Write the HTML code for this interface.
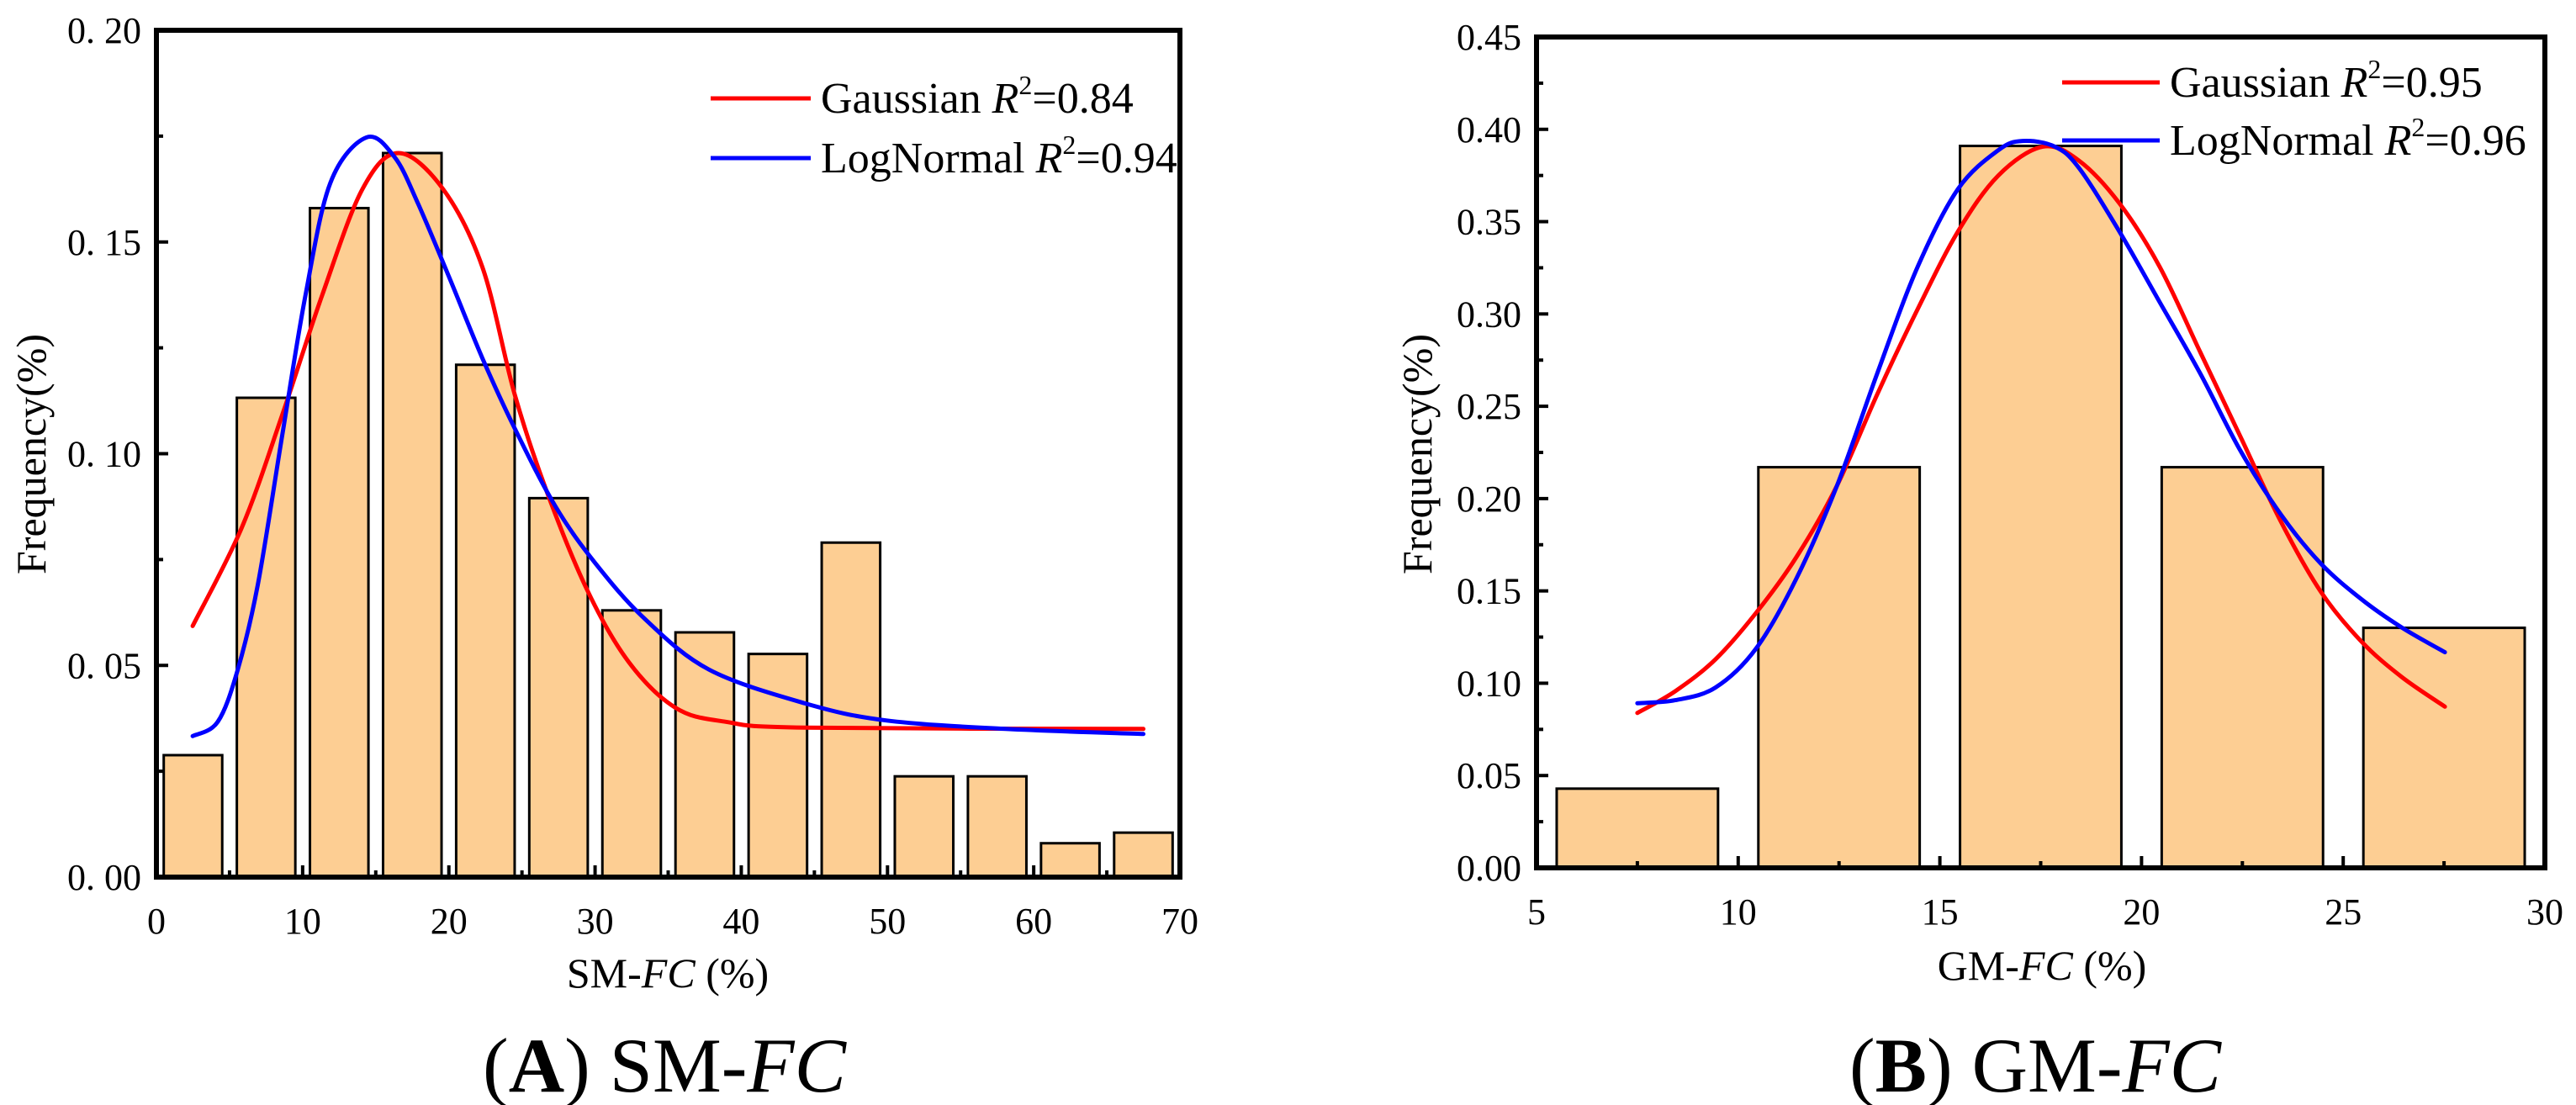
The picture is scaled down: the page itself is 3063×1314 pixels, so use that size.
<!DOCTYPE html>
<html><head><meta charset="utf-8"><style>
html,body{margin:0;padding:0;background:#fff;}
svg{display:block;font-family:"Liberation Serif",serif;}
</style></head><body>
<svg id="fig" width="3063" height="1314" viewBox="0 0 3063 1314" xmlns="http://www.w3.org/2000/svg">
<g id="plotA"></g>
<g id="plotB"></g>
</svg>
<script>
// Chart A data
const aBarCenters=[2.5,7.5,12.5,17.5,22.5,27.5,32.5,37.5,42.5,47.5,52.5,57.5,62.5,67.5];
const aBarValues=[0.0288,0.1132,0.158,0.171,0.121,0.0895,0.063,0.0578,0.0527,0.079,0.0238,0.0238,0.008,0.0105];
const aGaussX=[2.48,5.83,8.59,11.34,14.09,16.57,19.6,22.3,24.5,26.7,29.5,32.3,35.5,38.9,44.4,67.5];
const aGaussY=[0.0593,0.0825,0.109,0.1375,0.1625,0.171,0.1625,0.144,0.114,0.091,0.0675,0.0508,0.04,0.0367,0.0353,0.035];
const aLogX=[2.48,4.2,5.56,6.93,8.59,10.2,11.9,14.36,16.3,17.9,20.1,22.3,24.5,27.3,30.05,33.4,37.8,44.4,49.9,58.1,67.5];
const aLogY=[0.0333,0.0367,0.049,0.069,0.104,0.1375,0.164,0.1747,0.17,0.159,0.141,0.1225,0.106,0.0875,0.074,0.061,0.049,0.041,0.037,0.035,0.0338];
const aXTicks=[0,10,20,30,40,50,60,70];
const aYTicks=[0,0.05,0.10,0.15,0.20];
const aYTickLabels=["0. 00","0. 05","0. 10","0. 15","0. 20"];
// Chart B data
const bBarCenters=[7.5,12.5,17.5,22.5,27.5];
const bBarValues=[0.0429,0.217,0.391,0.217,0.130];
const bGaussX=[7.5,8.44,9.44,10.44,11.45,12.45,13.45,14.45,15.45,16.45,17.55,18.45,19.45,20.45,21.45,22.45,23.45,24.45,25.45,26.45,27.52];
const bGaussY=[0.0839,0.0957,0.113,0.138,0.1685,0.207,0.2566,0.3026,0.3447,0.375,0.3906,0.383,0.36,0.3255,0.2796,0.2336,0.1877,0.1494,0.1226,0.1034,0.0873];
const bLogX=[7.5,8.44,9.44,10.44,11.45,12.45,13.45,14.45,15.45,16.45,17.05,17.85,18.45,19.45,20.45,21.45,22.45,23.45,24.45,25.45,26.45,27.52];
const bLogY=[0.0892,0.0908,0.0977,0.1187,0.157,0.207,0.268,0.3255,0.3677,0.3887,0.3937,0.3906,0.379,0.3447,0.3064,0.268,0.226,0.1915,0.1647,0.1455,0.1302,0.1168];
const bXTicks=[5,10,15,20,25,30];
const bYTicks=[0,0.05,0.10,0.15,0.20,0.25,0.30,0.35,0.40,0.45];
const bYTickLabels=["0.00","0.05","0.10","0.15","0.20","0.25","0.30","0.35","0.40","0.45"];

const NS="http://www.w3.org/2000/svg";
function mk(parent,tag,attrs,text){const e=document.createElementNS(NS,tag);for(const k in attrs)e.setAttribute(k,attrs[k]);if(text!==undefined)e.textContent=text;parent.appendChild(e);return e;}

function smoothPath(pts){
  let d='M'+pts[0][0].toFixed(1)+','+pts[0][1].toFixed(1);
  for(let i=0;i<pts.length-1;i++){
    const p0=pts[i-1]||pts[i],p1=pts[i],p2=pts[i+1],p3=pts[i+2]||p2;
    const c1=[p1[0]+(p2[0]-p0[0])/6,p1[1]+(p2[1]-p0[1])/6];
    const c2=[p2[0]-(p3[0]-p1[0])/6,p2[1]-(p3[1]-p1[1])/6];
    d+=' C'+c1[0].toFixed(1)+','+c1[1].toFixed(1)+' '+c2[0].toFixed(1)+','+c2[1].toFixed(1)+' '+p2[0].toFixed(1)+','+p2[1].toFixed(1);
  }
  return d;
}

function drawChart(g,cfg){
  const sx=v=>cfg.x0+(v-cfg.xmin)/(cfg.xmax-cfg.xmin)*(cfg.x1-cfg.x0);
  const sy=v=>cfg.y0-(v-cfg.ymin)/(cfg.ymax-cfg.ymin)*(cfg.y0-cfg.y1);
  cfg.bars.forEach((c,i)=>{
    const r=mk(g,'rect',{x:sx(c-2),y:sy(cfg.vals[i]),width:sx(c+2)-sx(c-2),height:sy(0)-sy(cfg.vals[i]),fill:'#fdce93',stroke:'#000','stroke-width':3});
    
    
  });
  function curve(xs,ys,color,name){
    const pts=xs.map((x,i)=>[sx(x),sy(ys[i])]);
    const p=mk(g,'path',{d:smoothPath(pts),fill:'none',stroke:color,'stroke-width':5,'stroke-linejoin':'round','stroke-linecap':'round'});
    
    
  }
  curve(cfg.gx,cfg.gy,'#f00','gaussian-curve');
  curve(cfg.lx,cfg.ly,'#00f','lognormal-curve');
  cfg.xt.forEach(t=>{
    mk(g,'line',{x1:sx(t),x2:sx(t),y1:cfg.y0,y2:cfg.y0-14,stroke:'#000','stroke-width':4});
    const tl=mk(g,'text',{x:sx(t),y:cfg.y0+67,'font-size':44,'text-anchor':'middle'},String(t));
    
    
  });
  cfg.xminor.forEach(t=>mk(g,'line',{x1:sx(t),x2:sx(t),y1:cfg.y0,y2:cfg.y0-8,stroke:'#000','stroke-width':4}));
  cfg.yt.forEach((t,i)=>{
    mk(g,'line',{x1:cfg.x0,x2:cfg.x0+14,y1:sy(t),y2:sy(t),stroke:'#000','stroke-width':4});
    const tl=mk(g,'text',{x:cfg.x0-18,y:sy(t)+15,'font-size':44,'text-anchor':'end'},cfg.ytl[i]);
    
    
  });
  cfg.yminor.forEach(t=>mk(g,'line',{x1:cfg.x0,x2:cfg.x0+8,y1:sy(t),y2:sy(t),stroke:'#000','stroke-width':4}));
  const f=mk(g,'rect',{x:cfg.x0,y:cfg.y1,width:cfg.x1-cfg.x0,height:cfg.y0-cfg.y1,fill:'none',stroke:'#000','stroke-width':6});
  
  
}
const aMinorX=[5,15,25,35,45,55,65];
const aMinorY=[0.025,0.075,0.125,0.175];
const bMinorX=[7.5,12.5,17.5,22.5,27.5];
const bMinorY=[0.025,0.075,0.125,0.175,0.225,0.275,0.325,0.375,0.425];
drawChart(document.getElementById('plotA'),{x0:186,x1:1403,y0:1043,y1:36,xmin:0,xmax:70,ymin:0,ymax:0.2,bars:aBarCenters,vals:aBarValues,gx:aGaussX,gy:aGaussY,lx:aLogX,ly:aLogY,xt:aXTicks,yt:aYTicks,ytl:aYTickLabels,xminor:aMinorX,yminor:aMinorY});
drawChart(document.getElementById('plotB'),{x0:1827,x1:3026,y0:1032,y1:44,xmin:5,xmax:30,ymin:0,ymax:0.45,bars:bBarCenters,vals:bBarValues,gx:bGaussX,gy:bGaussY,lx:bLogX,ly:bLogY,xt:bXTicks,yt:bYTicks,ytl:bYTickLabels,xminor:bMinorX,yminor:bMinorY});
</script>
<script>
(function(){
const svg=document.getElementById('fig');
svg.insertAdjacentHTML('beforeend',`
<g>
 <line x1="845" y1="117" x2="964" y2="117" stroke="#f00" stroke-width="5"/>
 <text x="976" y="134" font-size="52">Gaussian <tspan font-style="italic">R</tspan><tspan font-size="32" dy="-22">2</tspan><tspan dy="22">=0.84</tspan></text>
 <line x1="845" y1="188" x2="964" y2="188" stroke="#00f" stroke-width="5"/>
 <text x="976" y="205" font-size="52">LogNormal <tspan font-style="italic">R</tspan><tspan font-size="32" dy="-22">2</tspan><tspan dy="22">=0.94</tspan></text>
</g>
<g>
 <line x1="2452" y1="98" x2="2568" y2="98" stroke="#f00" stroke-width="5"/>
 <text x="2580" y="115" font-size="52">Gaussian <tspan font-style="italic">R</tspan><tspan font-size="32" dy="-22">2</tspan><tspan dy="22">=0.95</tspan></text>
 <line x1="2452" y1="167" x2="2568" y2="167" stroke="#00f" stroke-width="5"/>
 <text x="2580" y="184" font-size="52">LogNormal <tspan font-style="italic">R</tspan><tspan font-size="32" dy="-22">2</tspan><tspan dy="22">=0.96</tspan></text>
</g>
<text x="794" y="1174" font-size="50" text-anchor="middle">SM-<tspan font-style="italic">FC</tspan> (%)</text>
<text x="2428" y="1165" font-size="50" text-anchor="middle">GM-<tspan font-style="italic">FC</tspan> (%)</text>
<text transform="translate(54,540) rotate(-90)" font-size="50" text-anchor="middle">Frequency(%)</text>
<text transform="translate(1702,540) rotate(-90)" font-size="50" text-anchor="middle">Frequency(%)</text>
<text x="790" y="1298" font-size="92" text-anchor="middle">(<tspan font-weight="bold">A</tspan>) SM-<tspan font-style="italic">FC</tspan></text>
<text x="2420" y="1298" font-size="92" text-anchor="middle">(<tspan font-weight="bold">B</tspan>) GM-<tspan font-style="italic">FC</tspan></text>
`);
})();
</script>
</body></html>
